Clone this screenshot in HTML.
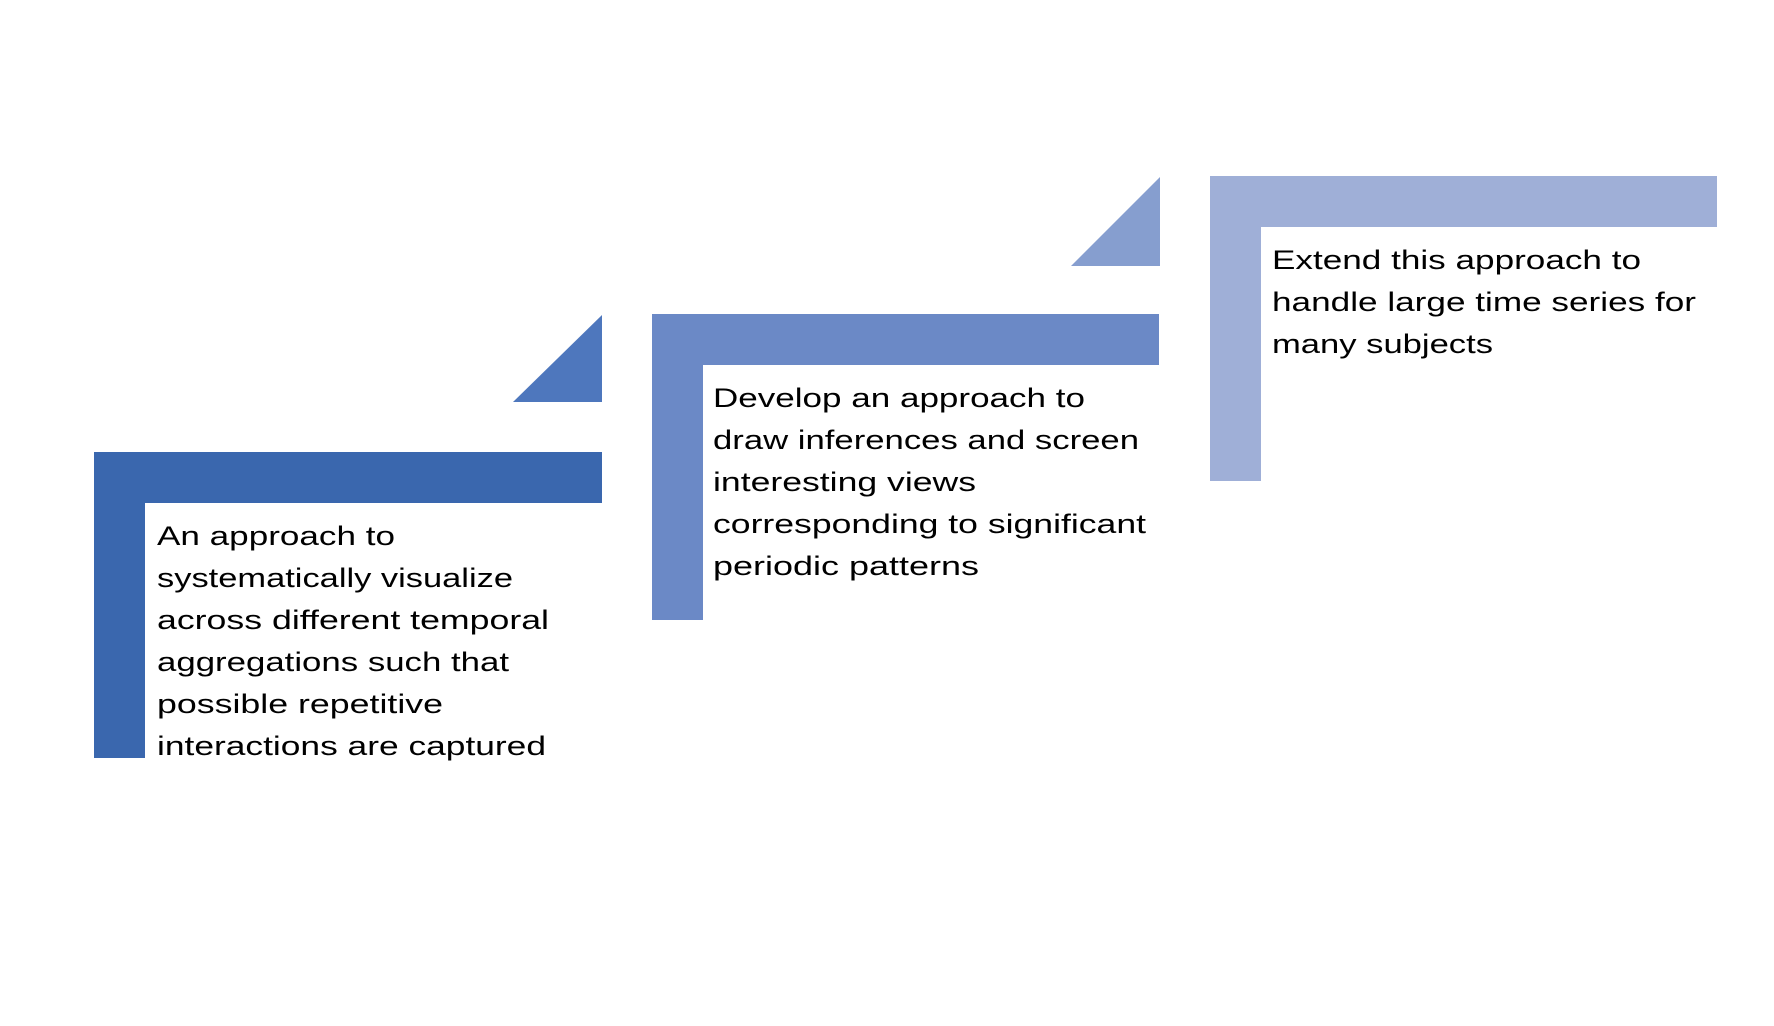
<!DOCTYPE html>
<html><head><meta charset="utf-8"><style>
html,body{margin:0;padding:0;background:#fff;}
svg{display:block;}
text{font-family:"Liberation Sans",sans-serif;font-size:27px;fill:#000;}
</style></head><body>
<svg width="1774" height="1026" viewBox="0 0 1774 1026" xmlns="http://www.w3.org/2000/svg">
<rect width="1774" height="1026" fill="#fff"/>
<polygon points="513,402 602,315 602,402" fill="#4E77BD"/>
<polygon points="94,452 602,452 602,503 145,503 145,758 94,758" fill="#3A67AE"/>
<polygon points="1071,266 1160,177 1160,266" fill="#869ECF"/>
<polygon points="652,314 1159,314 1159,365 703,365 703,620 652,620" fill="#6B89C6"/>
<polygon points="1210,176 1717,176 1717,227 1261,227 1261,481 1210,481" fill="#9FAFD7"/>
<text x="157" y="545" textLength="238" lengthAdjust="spacingAndGlyphs">An approach to</text>
<text x="157" y="587" textLength="356" lengthAdjust="spacingAndGlyphs">systematically visualize</text>
<text x="157" y="629" textLength="392" lengthAdjust="spacingAndGlyphs">across different temporal</text>
<text x="157" y="671" textLength="352" lengthAdjust="spacingAndGlyphs">aggregations such that</text>
<text x="157" y="713" textLength="286" lengthAdjust="spacingAndGlyphs">possible repetitive</text>
<text x="157" y="755" textLength="389" lengthAdjust="spacingAndGlyphs">interactions are captured</text>

<text x="713" y="407" textLength="372" lengthAdjust="spacingAndGlyphs">Develop an approach to</text>
<text x="713" y="449" textLength="426" lengthAdjust="spacingAndGlyphs">draw inferences and screen</text>
<text x="713" y="491" textLength="263" lengthAdjust="spacingAndGlyphs">interesting views</text>
<text x="713" y="533" textLength="433" lengthAdjust="spacingAndGlyphs">corresponding to significant</text>
<text x="713" y="575" textLength="266" lengthAdjust="spacingAndGlyphs">periodic patterns</text>

<text x="1272" y="269" textLength="369" lengthAdjust="spacingAndGlyphs">Extend this approach to</text>
<text x="1272" y="311" textLength="424" lengthAdjust="spacingAndGlyphs">handle large time series for</text>
<text x="1272" y="353" textLength="221" lengthAdjust="spacingAndGlyphs">many subjects</text>
</svg>
</body></html>
